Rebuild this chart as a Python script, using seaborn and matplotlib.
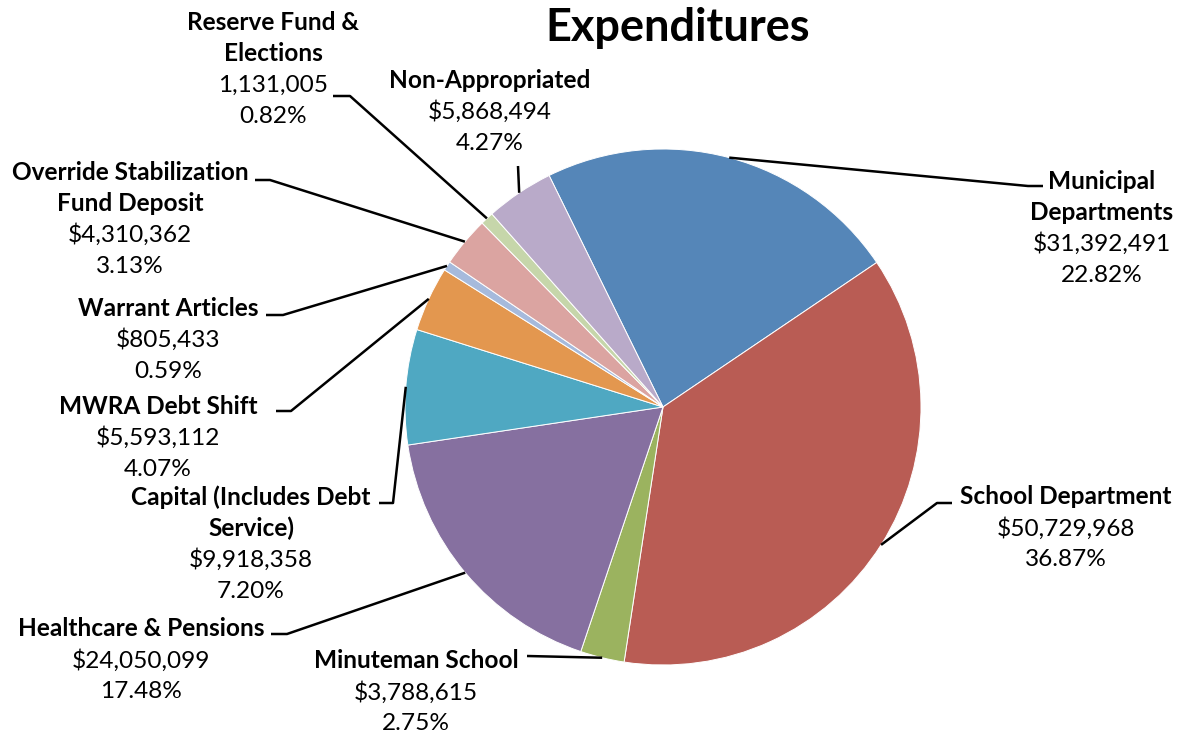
import matplotlib
matplotlib.use("Agg")
import matplotlib.pyplot as plt
import numpy as np
import seaborn as sns

# Budget expenditures by category (clockwise from the Municipal slice)
categories = [
    "Municipal\nDepartments",
    "School Department",
    "Minuteman School",
    "Healthcare & Pensions",
    "Capital (Includes Debt\nService)",
    "MWRA Debt Shift",
    "Warrant Articles",
    "Override Stabilization\nFund Deposit",
    "Reserve Fund &\nElections",
    "Non-Appropriated",
]
amounts = [31392491, 50729968, 3788615, 24050099, 9918358,
           5593112, 805433, 4310362, 1131005, 5868494]
amount_labels = ["$31,392,491", "$50,729,968", "$3,788,615", "$24,050,099",
                 "$9,918,358", "$5,593,112", "$805,433", "$4,310,362",
                 "1,131,005", "$5,868,494"]
pct_labels = ["22.82%", "36.87%", "2.75%", "17.48%", "7.20%",
              "4.07%", "0.59%", "3.13%", "0.82%", "4.27%"]
slice_colors = ["#5586B8", "#B95C54", "#9BB35F", "#8670A0", "#4FA8C2",
                "#E3974F", "#A6BADC", "#DBA4A1", "#C6D6AA", "#B9AAC9"]
title = "Expenditures"

sns.set_theme(style="white")
plt.rcParams["font.family"] = ["Lato", "DejaVu Sans"]

W, H = 1181, 735
fig = plt.figure(figsize=(W / 100, H / 100), dpi=100)
ax = fig.add_axes([0, 0, 1, 1])


def Y(y):
    # layout positions are measured from the top edge
    return H - y


cx, cy, R = 663, 407, 258
wedges, _ = ax.pie(amounts, colors=slice_colors, startangle=116.2,
                   counterclock=False, center=(cx, Y(cy)), radius=R,
                   wedgeprops=dict(edgecolor="white", linewidth=0.7))
ax.set_xlim(0, W)
ax.set_ylim(0, H)
ax.set_aspect("equal")
ax.axis("off")

ax.text(678, Y(28), title, ha="center", va="center",
        fontsize=32.5, fontweight="bold", color="black")

# label block: center x, first-line y, leader start, leader elbow (or None)
label_layout = [
    (1102, 181, (1043, 186), (1028, 186)),
    (1066, 497, (952, 503), (937, 503)),
    (416, 661, (527, 656), None),
    (141, 629, (271, 634), (287, 634)),
    (251, 497, (379, 503), (393, 503)),
    (158, 406, (276, 411), (291, 411)),
    (168, 308, (266, 315), (283, 315)),
    (130, 172, (255, 180), (270, 180)),
    (273, 22, (333, 96), (350, 96)),
    (490, 80, (518, 166), None),
]

line_h = 31.5
fs = 17.6
for w, name, amt, pct, (lx, ly, p0, p1) in zip(
        wedges, categories, amount_labels, pct_labels, label_layout):
    lines = [(s, "bold") for s in name.split("\n")]
    lines += [(amt, "normal"), (pct, "normal")]
    for i, (s, wt) in enumerate(lines):
        ax.text(lx, Y(ly + i * line_h), s, ha="center", va="center",
                fontsize=fs, fontweight=wt, color="black")
    mid = np.deg2rad((w.theta1 + w.theta2) / 2)
    ex, ey = w.center[0] + R * np.cos(mid), w.center[1] + R * np.sin(mid)
    pts = [(p0[0], Y(p0[1]))]
    if p1 is not None:
        pts.append((p1[0], Y(p1[1])))
    pts.append((ex, ey))
    xs, ys = zip(*pts)
    ax.plot(xs, ys, color="black", lw=1.8, solid_capstyle="butt")

fig.savefig("out.png", dpi=100, facecolor="white")
